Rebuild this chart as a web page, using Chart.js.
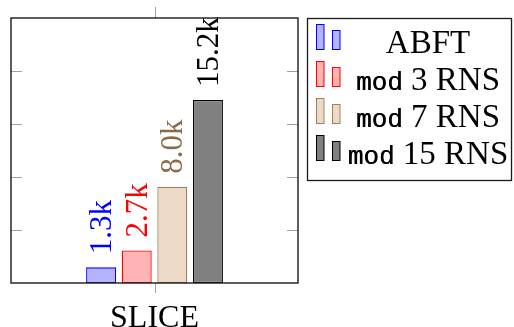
<!DOCTYPE html>
<html>
<head>
<meta charset="utf-8">
<script src="https://cdn.jsdelivr.net/npm/chart.js@4.4.0/dist/chart.umd.min.js"></script>
<style>
  html, body { margin: 0; padding: 0; background: #fff; }
</style>
</head>
<body>
<canvas id="chart" width="514" height="327"></canvas>
<script>
const categories = ['SLICE'];
const seriesNames = ['ABFT', 'mod 3 RNS', 'mod 7 RNS', 'mod 15 RNS'];
const abft = [1.3];
const mod3 = [2.7];
const mod7 = [8.0];
const mod15 = [15.2];
const yTicks = [0, 4.4, 8.8, 13.2, 17.6, 22];

const SERIF = '"Liberation Serif", "Times New Roman", serif';
const MONO = '"Liberation Mono", "DejaVu Sans Mono", monospace';

const fills = ['#b3b3ff', '#ffb3b3', '#ecd9c6', '#808080'];
const borders = ['#0000ff', '#ff0000', '#a08262', '#000000'];
const labelColors = ['#0000ff', '#ff0000', '#8b6a47', '#000000'];

// frame + pgfplots-like ticks (y inward on both sides, x outward top and bottom)
const frameAndTicks = {
  id: 'frameAndTicks',
  afterDatasetsDraw(chart) {
    const { ctx, chartArea: a, scales: { x, y } } = chart;
    ctx.save();
    ctx.strokeStyle = '#a0a0a0';
    ctx.lineWidth = 1;
    ctx.beginPath();
    yTicks.slice(1, -1).forEach(v => {
      const py = Math.round(y.getPixelForValue(v)) + 0.5;
      ctx.moveTo(a.left, py); ctx.lineTo(a.left + 11, py);
      ctx.moveTo(a.right, py); ctx.lineTo(a.right - 11, py);
    });
    categories.forEach((c, i) => {
      const px = Math.round(x.getPixelForValue(i)) + 0.5;
      ctx.moveTo(px, a.top); ctx.lineTo(px, a.top - 11);
      ctx.moveTo(px, a.bottom); ctx.lineTo(px, a.bottom + 10);
    });
    ctx.stroke();
    ctx.strokeStyle = '#1a1a1a';
    ctx.lineWidth = 1.4;
    ctx.strokeRect(a.left, a.top, a.right - a.left, a.bottom - a.top);
    ctx.restore();
  }
};

// rotated value labels above bars
const barLabels = {
  id: 'barLabels',
  afterDatasetsDraw(chart) {
    const { ctx } = chart;
    ctx.save();
    ctx.font = '31px ' + SERIF;
    ctx.textAlign = 'left';
    ctx.textBaseline = 'middle';
    chart.data.datasets.forEach((ds, i) => {
      chart.getDatasetMeta(i).data.forEach((bar, j) => {
        ctx.save();
        ctx.translate(bar.x + 2, bar.y - 13);
        ctx.rotate(-Math.PI / 2);
        ctx.fillStyle = labelColors[i];
        ctx.fillText(ds.data[j].toFixed(1) + 'k', 0, 0);
        ctx.restore();
      });
    });
    ctx.restore();
  }
};

// legend box with two-bar markers, "mod" set in typewriter
const sideLegend = {
  id: 'sideLegend',
  afterDraw(chart) {
    const { ctx } = chart;
    const box = { left: 307.5, top: 18.5, right: 511.5, bottom: 180.5 };
    ctx.save();
    ctx.strokeStyle = '#1a1a1a';
    ctx.lineWidth = 1.3;
    ctx.strokeRect(box.left, box.top, box.right - box.left, box.bottom - box.top);
    ctx.textBaseline = 'alphabetic';
    chart.data.datasets.forEach((ds, i) => {
      const base = 52.5 + i * 37;
      ctx.fillStyle = ds.backgroundColor;
      ctx.strokeStyle = ds.borderColor;
      ctx.lineWidth = 1;
      ctx.fillRect(316, base - 28.5, 8, 25.5);
      ctx.strokeRect(316.5, base - 28, 7.5, 25);
      ctx.fillRect(332, base - 22.5, 8, 19.5);
      ctx.strokeRect(332.5, base - 22, 7.5, 19);

      ctx.fillStyle = '#000';
      const label = ds.label;
      let mono = '', rest = label;
      if (label.startsWith('mod ')) { mono = 'mod'; rest = label.slice(3); }
      ctx.font = '26px ' + MONO;
      const wm = mono ? ctx.measureText(mono).width : 0;
      ctx.font = '33px ' + SERIF;
      const wr = ctx.measureText(rest).width;
      let x0 = 428 - (wm + wr) / 2;
      if (mono) {
        ctx.font = '26px ' + MONO;
        ctx.fillText(mono, x0, base);
        ctx.fillText(mono, x0 + 0.4, base);
      }
      ctx.font = '33px ' + SERIF;
      ctx.fillText(rest, x0 + wm, base);
    });
    ctx.restore();
  }
};

const seriesValues = [abft, mod3, mod7, mod15];

new Chart(document.getElementById('chart'), {
  type: 'bar',
  data: {
    labels: categories,
    datasets: seriesNames.map((name, i) => ({
      label: name,
      data: seriesValues[i],
      backgroundColor: fills[i],
      borderColor: borders[i],
      borderWidth: 1.3,
      borderSkipped: false,
      categoryPercentage: 0.496,
      barPercentage: 0.843
    }))
  },
  options: {
    responsive: false,
    animation: false,
    devicePixelRatio: 1,
    layout: { padding: { left: 11, right: 216, top: 18, bottom: 0 } },
    plugins: { legend: { display: false }, tooltip: { enabled: false } },
    scales: {
      x: {
        grid: { display: false, drawTicks: false },
        border: { display: false },
        ticks: { color: '#000', font: { family: SERIF, size: 32 }, padding: 16 },
        afterFit(scale) { scale.height = 44; }
      },
      y: {
        display: false,
        min: 0,
        max: 22
      }
    }
  },
  plugins: [frameAndTicks, barLabels, sideLegend]
});
</script>
</body>
</html>
